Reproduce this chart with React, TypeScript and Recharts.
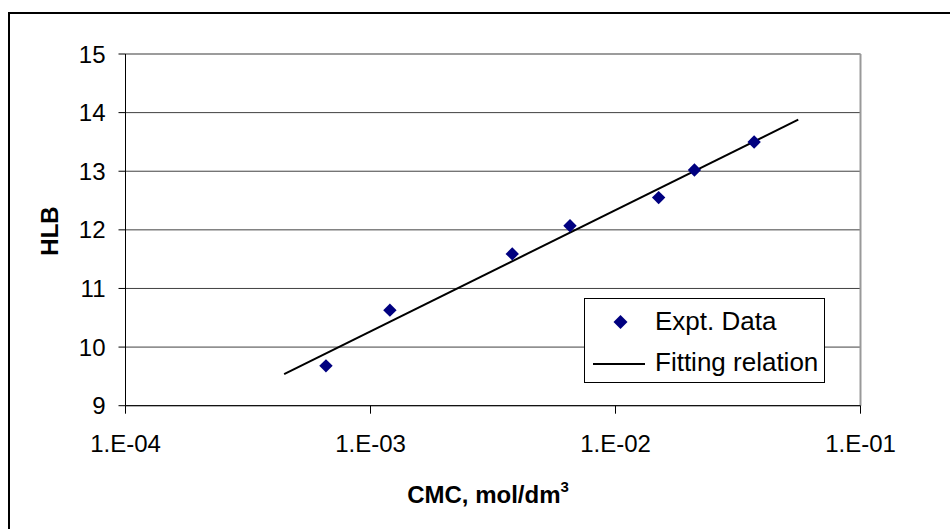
import React from 'react';
import {
  ScatterChart,
  Scatter,
  XAxis,
  YAxis,
  CartesianGrid,
  ReferenceLine,
} from 'recharts';

const cmcValues = [6.58e-4, 1.2e-3, 3.79e-3, 6.52e-3, 1.5e-2, 2.1e-2, 3.68e-2];
const hlbValues = [9.68, 10.63, 11.59, 12.07, 12.55, 13.02, 13.5];

// fitted straight line (log scale), two end points
const fitCmc = [4.44e-4, 5.57e-2];
const fitHlb = [9.54, 13.88];

const xTicks = [1e-4, 1e-3, 1e-2, 1e-1];
const yTicks = [9, 10, 11, 12, 13, 14, 15];

const exptData = cmcValues.map((x, i) => ({ x, y: hlbValues[i] }));
const fitData = fitCmc.map((x, i) => ({ x, y: fitHlb[i] }));

const FONT = '"Liberation Sans", Arial, sans-serif';
const NAVY = '#000080';

const formatExp = (v: number) => {
  const e = Math.round(Math.log10(v));
  const s = String(Math.abs(e)).padStart(2, '0');
  return `1.E${e < 0 ? '-' : '+'}${s}`;
};

const Diamond = (props: any) => {
  const { cx, cy } = props;
  if (cx == null || cy == null) return null;
  const r = 6.7;
  return (
    <polygon
      points={`${cx},${cy - r} ${cx + r},${cy} ${cx},${cy + r} ${cx - r},${cy}`}
      fill={NAVY}
    />
  );
};

const LegendBox = () => (
  <svg width={241} height={85} style={{ display: 'block' }}>
    <rect x={0.5} y={0.5} width={240} height={84} fill="#fff" stroke="#000" strokeWidth={1} />
    <polygon points="36.5,17 43.5,24 36.5,31 29.5,24" fill={NAVY} />
    <text x={71} y={32} fontFamily={FONT} fontSize={26} fill="#000">
      Expt. Data
    </text>
    <line x1={9} y1={66} x2={61} y2={66} stroke="#000" strokeWidth={2} />
    <text x={71} y={73} fontFamily={FONT} fontSize={26} fill="#000">
      Fitting relation
    </text>
  </svg>
);

export default function App() {
  return (
    <div
      style={{
        position: 'absolute',
        left: 0,
        top: 0,
        width: 950,
        height: 529,
        overflow: 'hidden',
        background: '#fff',
      }}
    >
      <div
        style={{
          position: 'absolute',
          left: 8,
          top: 11.5,
          width: 1000,
          height: 600,
          borderLeft: '2px solid #000',
          borderTop: '2.5px solid #000',
        }}
      />
      <div style={{ position: 'absolute', left: 0, top: 0 }}>
        <ScatterChart
          width={950}
          height={529}
          margin={{ top: 54, right: 89.5, bottom: 122.3, left: 124.5 }}
        >
          <CartesianGrid vertical={false} stroke="#404040" strokeWidth={1} />
          <XAxis
            type="number"
            dataKey="x"
            scale="log"
            domain={[1e-4, 1e-1]}
            ticks={xTicks}
            tickFormatter={formatExp}
            allowDataOverflow
            height={1}
            stroke="#000"
            tickSize={8}
            tickMargin={21}
            tick={{ fill: '#000', fontSize: 24, fontFamily: FONT }}
            label={{
              content: () => (
                <text x={488} y={503} textAnchor="middle" fontFamily={FONT} fontSize={24} fontWeight="bold" fill="#000">
                  CMC, mol/dm
                  <tspan dy={-11} fontSize={15}>3</tspan>
                </text>
              ),
            }}
          />
          <YAxis
            type="number"
            dataKey="y"
            domain={[9, 15]}
            ticks={yTicks}
            allowDataOverflow
            width={1}
            stroke="#000"
            tickSize={7}
            tickMargin={13}
            tick={{ fill: '#000', fontSize: 24, fontFamily: FONT }}
            label={{
              content: () => (
                <text
                  x={49}
                  y={231}
                  transform="rotate(-90 49 231)"
                  textAnchor="middle"
                  dominantBaseline="central"
                  fontFamily={FONT}
                  fontSize={24}
                  fontWeight="bold"
                  fill="#000"
                >
                  HLB
                </text>
              ),
            }}
          />
          <ReferenceLine x={1e-1} stroke="#999" strokeWidth={2} />
          <ReferenceLine y={15} stroke="#999" strokeWidth={1} />
          <Scatter
            name="Fitting relation"
            data={fitData}
            line={{ stroke: '#000', strokeWidth: 2 }}
            shape={() => null}
            isAnimationActive={false}
          />
          <Scatter name="Expt. Data" data={exptData} shape={Diamond} isAnimationActive={false} />
        </ScatterChart>
      </div>
      <div style={{ position: 'absolute', left: 584, top: 298 }}>
        <LegendBox />
      </div>
    </div>
  );
}
